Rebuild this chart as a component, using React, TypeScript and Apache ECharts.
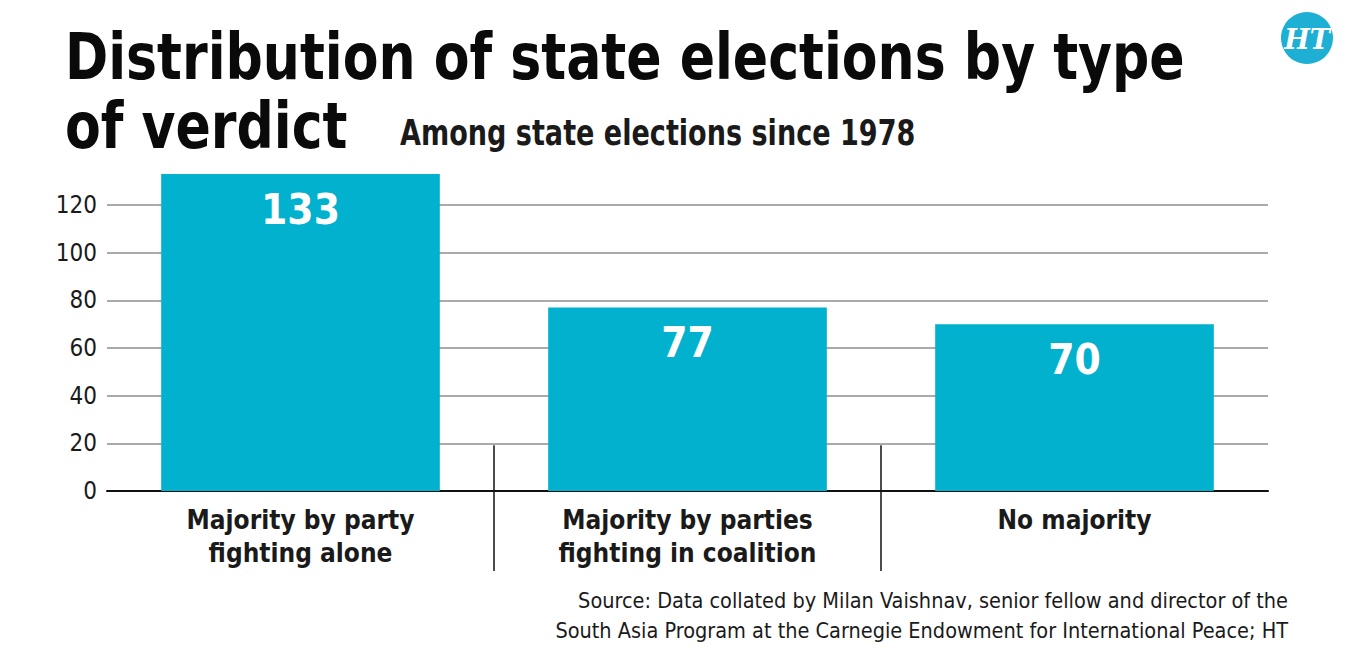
import React, { useEffect, useRef } from "react";
import * as echarts from "echarts";

const categories = [
  "Majority by party\nfighting alone",
  "Majority by parties\nfighting in coalition",
  "No majority",
];
const electionCounts = [133, 77, 70];
const yTicks = [0, 20, 40, 60, 80, 100, 120];

const titleLine1 = "Distribution of state elections by type";
const titleLine2 = "of verdict";
const subtitle = "Among state elections since 1978";
const sourceLines = [
  "Source: Data collated by Milan Vaishnav, senior fellow and director of the",
  "South Asia Program at the Carnegie Endowment for International Peace; HT",
];

const BAR = "#02b1ce";
const NARROW = "'DejaVu Sans Condensed', 'Liberation Sans Narrow', sans-serif";

export default function App() {
  const ref = useRef<HTMLDivElement>(null);

  useEffect(() => {
    if (!ref.current) return;
    const chart = echarts.init(ref.current, undefined, { renderer: "svg" });
    const yMax = Math.max(...electionCounts);
    const step = yTicks[1] - yTicks[0];

    chart.setOption({
      animation: false,
      backgroundColor: "#ffffff",
      grid: { left: 107, right: 79, top: 174, bottom: 180 },
      xAxis: {
        type: "category",
        data: categories,
        axisLine: { lineStyle: { color: "#111", width: 2 } },
        axisTick: { show: false },
        axisLabel: {
          color: "#1a1a1a",
          fontFamily: NARROW,
          fontWeight: "bold",
          fontSize: 26,
          lineHeight: 33,
          margin: 12,
        },
      },
      yAxis: {
        type: "value",
        min: 0,
        max: yMax,
        interval: step,
        axisLine: { show: false },
        axisTick: { show: false },
        splitLine: {
          showMaxLine: false,
          lineStyle: { color: "#aaaaaa", width: 2 },
        },
        axisLabel: {
          showMaxLabel: false,
          color: "#1a1a1a",
          fontFamily: NARROW,
          fontSize: 24,
          margin: 10,
          formatter: (v: number) => (yTicks.includes(v) ? String(v) : ""),
        },
      },
      series: [
        {
          type: "bar",
          data: electionCounts,
          barWidth: "72%",
          itemStyle: { color: BAR },
          label: {
            show: true,
            position: "insideTop",
            distance: 14,
            color: "#ffffff",
            fontFamily: NARROW,
            fontWeight: "bold",
            fontSize: 42,
          },
        },
      ],
    });

    // separators between categories, placed from the axis scale
    const y20 = chart.convertToPixel({ yAxisIndex: 0 }, yTicks[1]) as number;
    const y0 = chart.convertToPixel({ yAxisIndex: 0 }, 0) as number;
    const seps: any[] = [];
    for (let i = 0; i < categories.length - 1; i++) {
      const a = chart.convertToPixel({ xAxisIndex: 0 }, i) as number;
      const b = chart.convertToPixel({ xAxisIndex: 0 }, i + 1) as number;
      const x = Math.round((a + b) / 2);
      seps.push({
        type: "line",
        shape: { x1: x, y1: y20 + 2, x2: x, y2: y0 + 80 },
        style: { stroke: "#111", lineWidth: 1.5 },
        z: 10,
      });
    }

    chart.setOption({
      graphic: [
        ...seps,
        {
          type: "text",
          x: 65,
          y: 24,
          scaleX: 0.905,
          style: {
            text: titleLine1,
            font: `bold 64px ${NARROW}`,
            fill: "#0a0a0a",
          },
        },
        {
          type: "text",
          x: 65,
          y: 93,
          scaleX: 0.905,
          style: {
            text: titleLine2,
            font: `bold 64px ${NARROW}`,
            fill: "#0a0a0a",
          },
        },
        {
          type: "text",
          x: 400,
          y: 116,
          scaleX: 0.86,
          style: {
            text: subtitle,
            font: `bold 35px ${NARROW}`,
            fill: "#1a1a1a",
          },
        },
        {
          type: "text",
          x: 1288,
          y: 589,
          style: {
            text: sourceLines[0],
            font: `21.5px ${NARROW}`,
            align: "right",
            fill: "#1a1a1a",
          },
        },
        {
          type: "text",
          x: 1288,
          y: 619,
          style: {
            text: sourceLines[1],
            font: `21.5px ${NARROW}`,
            align: "right",
            fill: "#1a1a1a",
          },
        },
        {
          type: "circle",
          shape: { cx: 1307, cy: 38, r: 26 },
          style: { fill: "#1db0d4" },
        },
        {
          type: "text",
          x: 1307,
          y: 39,
          style: {
            text: "HT",
            font: "italic bold 27px 'DejaVu Serif', serif",
            fill: "#ffffff",
            align: "center",
            verticalAlign: "middle",
          },
        },
      ],
    });

    return () => chart.dispose();
  }, []);

  return (
    <div
      ref={ref}
      style={{ position: "fixed", left: 0, top: 0, width: 1347, height: 671 }}
    />
  );
}
